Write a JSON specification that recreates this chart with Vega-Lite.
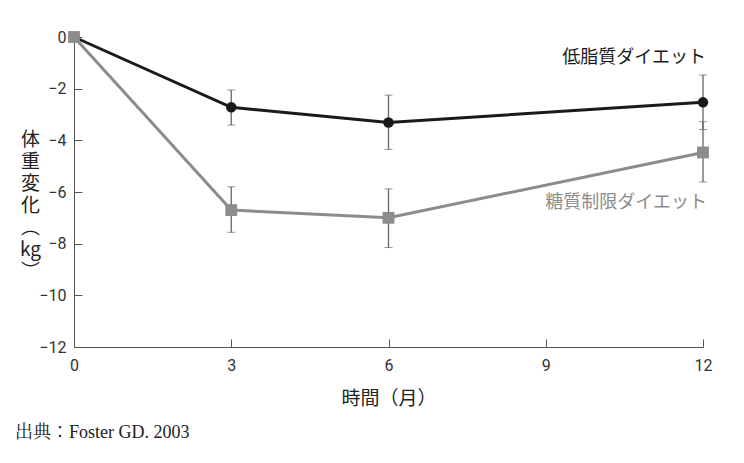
{
  "$schema": "https://vega.github.io/schema/vega-lite/v6.json",
  "width": 629,
  "height": 310,
  "autosize": "none",
  "padding": {"left": 74, "top": 37, "right": 41, "bottom": 116},
  "background": "white",
  "config": {"view": {"stroke": null}, "font": "Noto Sans CJK JP"},
  "title": {
    "text": "出典：Foster GD. 2003",
    "orient": "bottom",
    "anchor": "start",
    "frame": "group",
    "dx": -59,
    "offset": 16,
    "font": "Liberation Serif, Noto Serif CJK JP, Noto Sans CJK JP",
    "fontSize": 18,
    "fontWeight": "normal",
    "color": "#222"
  },
  "data": {
    "values": [
      {"diet": "低脂質", "month": 0, "mean": 0, "lo": null, "hi": null},
      {"diet": "低脂質", "month": 3, "mean": -2.72, "lo": -3.41, "hi": -2.05},
      {"diet": "低脂質", "month": 6, "mean": -3.31, "lo": -4.35, "hi": -2.25},
      {"diet": "低脂質", "month": 12, "mean": -2.53, "lo": -3.58, "hi": -1.47},
      {"diet": "糖質制限", "month": 0, "mean": 0, "lo": null, "hi": null},
      {"diet": "糖質制限", "month": 3, "mean": -6.7, "lo": -7.56, "hi": -5.8},
      {"diet": "糖質制限", "month": 6, "mean": -7.0, "lo": -8.15, "hi": -5.88},
      {"diet": "糖質制限", "month": 12, "mean": -4.47, "lo": -5.61, "hi": -3.28}
    ]
  },
  "encoding": {
    "x": {
      "field": "month",
      "type": "quantitative",
      "scale": {"domain": [0, 12], "nice": false, "zero": false},
      "axis": {
        "values": [0, 3, 6, 9, 12],
        "grid": false,
        "tickSize": -8,
        "tickColor": "#555",
        "domainColor": "#555",
        "labelFlush": false,
        "labelFont": "Liberation Sans Narrow, Roboto",
        "labelFontSize": 16,
        "labelColor": "#333",
        "labelPadding": 18,
        "title": "時間（月）",
        "titleFont": "Noto Sans CJK JP",
        "titleFontSize": 19,
        "titleFontWeight": "normal",
        "titleColor": "#222",
        "titlePadding": 16
      }
    }
  },
  "layer": [
    {
      "transform": [{"filter": "datum.lo != null"}],
      "mark": {
        "type": "errorbar",
        "ticks": {"size": 8, "color": "#666", "strokeWidth": 1.3},
        "rule": {"color": "#666", "strokeWidth": 1.3}
      },
      "encoding": {
        "y": {
          "field": "lo",
          "type": "quantitative",
          "scale": {"domain": [-12, 0], "nice": false, "zero": false},
          "axis": {
            "values": [0, -2, -4, -6, -8, -10, -12],
            "grid": false,
            "tickSize": -8,
            "tickColor": "#555",
            "domainColor": "#555",
            "labelFlush": false,
            "labelFont": "Liberation Sans Narrow, Roboto",
            "labelFontSize": 16,
            "labelColor": "#333",
            "labelPadding": 16,
            "title": ["体", "重", "変", "化", "︵", "kg", "︶"],
            "titleAngle": 0,
            "titleFont": "Noto Sans CJK JP",
            "titleFontSize": 19,
            "titleFontWeight": "normal",
            "titleColor": "#222",
            "titleLineHeight": 22,
            "titleAlign": "center",
            "titleBaseline": "middle",
            "titleX": -44,
            "titleY": 102
          }
        },
        "y2": {"field": "hi"},
        "detail": {"field": "diet"}
      }
    },
    {
      "mark": {"type": "line", "strokeWidth": 3},
      "encoding": {
        "y": {"field": "mean", "type": "quantitative"},
        "color": {
          "field": "diet",
          "type": "nominal",
          "scale": {"domain": ["低脂質", "糖質制限"], "range": ["#1a1a1a", "#8c8c8c"]},
          "legend": null
        }
      }
    },
    {
      "mark": {"type": "point", "filled": true, "opacity": 1},
      "encoding": {
        "y": {"field": "mean", "type": "quantitative"},
        "color": {"field": "diet", "type": "nominal", "legend": null},
        "shape": {
          "field": "diet",
          "type": "nominal",
          "scale": {"domain": ["低脂質", "糖質制限"], "range": ["circle", "square"]},
          "legend": null
        },
        "size": {
          "field": "diet",
          "type": "nominal",
          "scale": {"domain": ["低脂質", "糖質制限"], "range": [110, 140]},
          "legend": null
        }
      }
    },
    {
      "transform": [{"filter": "datum.diet == '低脂質' && datum.month == 12"}],
      "mark": {"type": "text", "align": "right", "baseline": "middle", "fontSize": 18, "fontWeight": 400, "color": "#1a1a1a", "dx": 3, "font": "Noto Sans CJK JP"},
      "encoding": {
        "x": {"datum": 12, "type": "quantitative"},
        "y": {"datum": -0.81, "type": "quantitative"},
        "text": {"value": "低脂質ダイエット"}
      }
    },
    {
      "transform": [{"filter": "datum.diet == '糖質制限' && datum.month == 12"}],
      "mark": {"type": "text", "align": "right", "baseline": "middle", "fontSize": 18, "fontWeight": 400, "color": "#8c8c8c", "dx": 4, "font": "Noto Sans CJK JP"},
      "encoding": {
        "x": {"datum": 12, "type": "quantitative"},
        "y": {"datum": -6.43, "type": "quantitative"},
        "text": {"value": "糖質制限ダイエット"}
      }
    }
  ]
}
